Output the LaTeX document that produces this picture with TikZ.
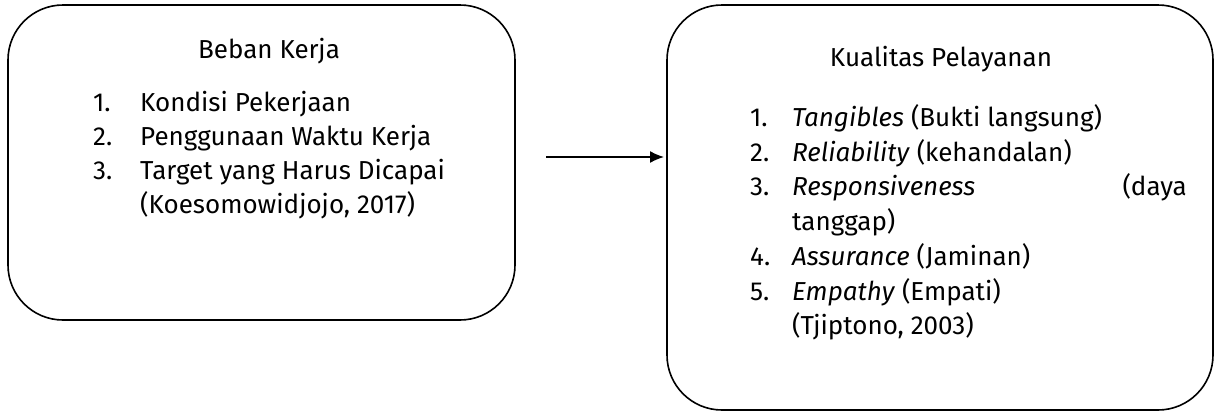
\documentclass[tikz,border=0pt]{standalone}
\usepackage{fontspec}
\setmainfont{Fira Sans}
\usetikzlibrary{arrows.meta}
\begin{document}
\begin{tikzpicture}[x=1pt,y=-1pt,
  box/.style={draw, line width=1.6pt, rounded corners=55pt, inner sep=0pt},
  txt/.style={anchor=base west, inner sep=0pt, font=\fontsize{26}{30}\selectfont},
  ttl/.style={anchor=base, inner sep=0pt, font=\fontsize{26}{30}\selectfont},
  rtxt/.style={anchor=base east, inner sep=0pt, font=\fontsize{26}{30}\selectfont},
  conn/.style={line width=1.5pt, -{Latex[length=14pt,width=12pt]}}]
\useasboundingbox (0,0) rectangle (1224,416);
% boxes
\node[box, minimum width=507pt, minimum height=315pt] (kerja) at (261.5,162.5) {};
\node[box, minimum width=546pt, minimum height=405pt] (pelayanan) at (940,207.5) {};
% left texts
\node[ttl] (kt) at (269,58) {Beban Kerja};
\node[txt] (k1n) at (93,111) {1.};
\node[txt] (k1) at (140,111) {Kondisi Pekerjaan};
\node[txt] (k2n) at (93,145) {2.};
\node[txt] (k2) at (140,145) {Penggunaan Waktu Kerja};
\node[txt] (k3n) at (93,179) {3.};
\node[txt] (k3) at (140,179) {Target yang Harus Dicapai};
\node[txt] (k4) at (140,213) {(Koesomowidjojo, 2017)};
% right texts
\node[ttl] (pt) at (941,66) {Kualitas Pelayanan};
\node[txt] (p1n) at (750,126) {1.};
\node[txt] (p1) at (792,126) {\textit{Tangibles} (Bukti langsung)};
\node[txt] (p2n) at (750,161) {2.};
\node[txt] (p2) at (792,161) {\textit{Reliability} (kehandalan)};
\node[txt] (p3n) at (750,195) {3.};
\node[txt] (p3) at (792,195) {\textit{Responsiveness}};
\node[rtxt] (p3b) at (1187,195) {(daya};
\node[txt] (p3c) at (792,230) {tanggap)};
\node[txt] (p4n) at (750,265) {4.};
\node[txt] (p4) at (792,265) {\textit{Assurance} (Jaminan)};
\node[txt] (p5n) at (750,300) {5.};
\node[txt] (p5) at (792,300) {\textit{Empathy} (Empati)};
\node[txt] (p6) at (792,334) {(Tjiptono, 2003)};
% arrow
\coordinate (a1) at (546,157);
\coordinate (a2) at (664,157);
\draw[conn] (a1) -- (a2);
\end{tikzpicture}
\end{document}
